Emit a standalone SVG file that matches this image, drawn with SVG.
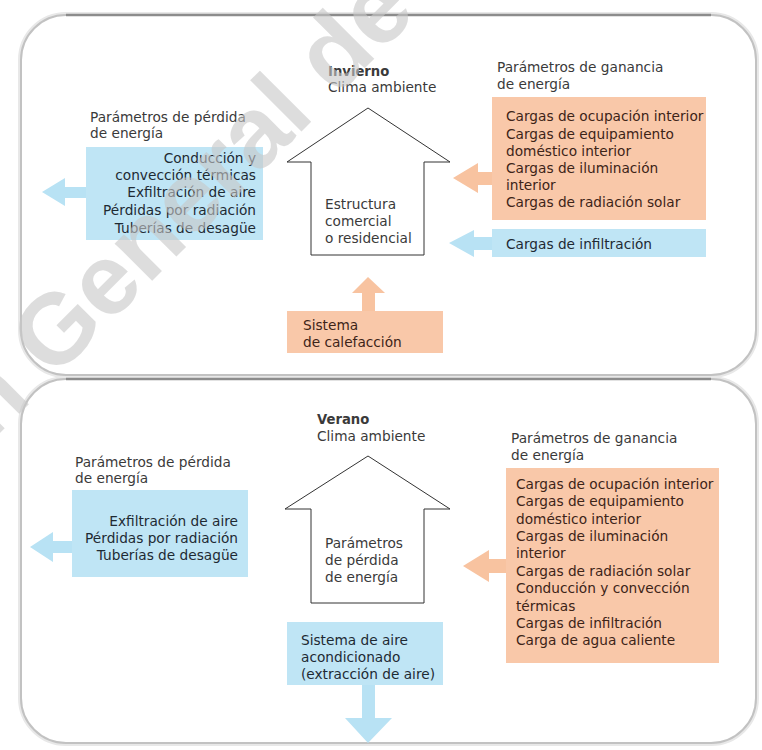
<svg xmlns="http://www.w3.org/2000/svg" width="762" height="750" viewBox="0 0 762 750">
<style>
text{font-family:"DejaVu Sans","Open Sans",sans-serif;font-size:13.7px;fill:#333}
.h{fill:#3a3a3a}
.b{fill:#1e2a33}
.o{fill:#3d2418}
.title{font-weight:bold;font-size:13.2px}
.bluebox{fill:#bfe5f5}
.orbox{fill:#f9c8a9}
.barrow{fill:#b8e2f4}
.oarrow{fill:#f8c3a0}
.house{fill:#fff;stroke:#333;stroke-width:1}
.panel{fill:#fff;stroke:#c2c2c2;stroke-width:2}
.halo{fill:none;stroke:#e8e8e8;stroke-width:6}
.topedge{fill:none;stroke:#8c8c8c;stroke-width:2.5}
.wm{font-family:"Liberation Sans",sans-serif;font-size:100px;font-weight:bold;fill:#c8c8c8;opacity:.6}
</style>
<g id="panels">
<rect class="halo" x="21" y="15" width="735" height="360" rx="45"/>
<rect class="panel" x="21" y="15" width="735" height="360" rx="45"/>
<path class="topedge" d="M66,15 H711"/>
<rect class="halo" x="21" y="379" width="735" height="364" rx="45"/>
<rect class="panel" x="21" y="379" width="735" height="364" rx="45"/>
<path class="topedge" d="M66,379 H711"/>
</g>
<g id="connectors">
<polygon class="barrow" points="42,192 65,178 65,187 86,187 86,198 65,198 65,206"/>
<polygon class="oarrow" points="453,178 478,163 478,172 492,172 492,185 478,185 478,193"/>
<polygon class="barrow" points="449,243 474,230 474,237 492,237 492,250 474,250 474,257"/>
<polygon class="oarrow" points="368,277 385,293 375,293 375,312 362,312 362,293 352,293"/>
<polygon class="barrow" points="30,547 53,532 53,541 72,541 72,553 53,553 53,562"/>
<polygon class="oarrow" points="463,566 489,550 489,559 506,559 506,573 489,573 489,582"/>
<polygon class="barrow" points="362,685 375,685 375,718 392,718 368,743 345,718 362,718"/>
</g>
<g id="winter-loss">
<text class="h" x="90" y="122">Parámetros de pérdida</text>
<text class="h" x="90" y="138">de energía</text>
<rect class="bluebox" x="86" y="147" width="177" height="93"/>
<g text-anchor="end">
<text class="b" x="256" y="163">Conducción y</text>
<text class="b" x="256" y="180">convección térmicas</text>
<text class="b" x="256" y="197">Exfiltración de aire</text>
<text class="b" x="256" y="215">Pérdidas por radiación</text>
<text class="b" x="256" y="233">Tuberías de desagüe</text>
</g>
</g>
<g id="winter-house">
<text class="h title" x="328" y="76">Invierno</text>
<text class="h" x="328" y="92">Clima ambiente</text>
<polygon class="house" points="368,108 450,162 424,162 424,255 311,255 311,162 287,162"/>
<text class="h" x="325" y="209">Estructura</text>
<text class="h" x="325" y="226">comercial</text>
<text class="h" x="325" y="243">o residencial</text>
</g>
<g id="winter-heating">
<rect class="orbox" x="287" y="311" width="156" height="42"/>
<text class="o" x="303" y="330">Sistema</text>
<text class="o" x="303" y="347">de calefacción</text>
</g>
<g id="winter-gain">
<text class="h" x="497" y="72">Parámetros de ganancia</text>
<text class="h" x="497" y="89">de energía</text>
<rect class="orbox" x="492" y="97" width="214" height="123"/>
<text class="o" x="506" y="121">Cargas de ocupación interior</text>
<text class="o" x="506" y="139">Cargas de equipamiento</text>
<text class="o" x="506" y="156">doméstico interior</text>
<text class="o" x="506" y="173">Cargas de iluminación</text>
<text class="o" x="506" y="190">interior</text>
<text class="o" x="506" y="207">Cargas de radiación solar</text>
</g>
<g id="winter-infiltration">
<rect class="bluebox" x="492" y="229" width="214" height="28"/>
<text class="b" x="506" y="249">Cargas de infiltración</text>
</g>
<g id="summer-loss">
<text class="h" x="75" y="467">Parámetros de pérdida</text>
<text class="h" x="75" y="483">de energía</text>
<rect class="bluebox" x="72" y="490" width="176" height="87"/>
<g text-anchor="end">
<text class="b" x="238" y="526">Exfiltración de aire</text>
<text class="b" x="238" y="543">Pérdidas por radiación</text>
<text class="b" x="238" y="560">Tuberías de desagüe</text>
</g>
</g>
<g id="summer-house">
<text class="h title" x="317" y="424">Verano</text>
<text class="h" x="317" y="441">Clima ambiente</text>
<polygon class="house" points="368,456 450,509 424,509 424,603 311,603 311,509 285,509"/>
<text class="h" x="325" y="548">Parámetros</text>
<text class="h" x="325" y="565">de pérdida</text>
<text class="h" x="325" y="582">de energía</text>
</g>
<g id="summer-ac">
<rect class="bluebox" x="287" y="622" width="156" height="63"/>
<text class="b" x="301" y="645">Sistema de aire</text>
<text class="b" x="301" y="662">acondicionado</text>
<text class="b" x="301" y="679">(extracción de aire)</text>
</g>
<g id="summer-gain">
<text class="h" x="511" y="443">Parámetros de ganancia</text>
<text class="h" x="511" y="460">de energía</text>
<rect class="orbox" x="506" y="468" width="213" height="195"/>
<text class="o" x="516" y="489">Cargas de ocupación interior</text>
<text class="o" x="516" y="506">Cargas de equipamiento</text>
<text class="o" x="516" y="524">doméstico interior</text>
<text class="o" x="516" y="541">Cargas de iluminación</text>
<text class="o" x="516" y="558">interior</text>
<text class="o" x="516" y="576">Cargas de radiación solar</text>
<text class="o" x="516" y="593">Conducción y convección</text>
<text class="o" x="516" y="611">térmicas</text>
<text class="o" x="516" y="628">Cargas de infiltración</text>
<text class="o" x="516" y="645">Carga de agua caliente</text>
</g>
<g id="watermark">
<text class="wm" transform="translate(-10,443) rotate(-45)">n General de</text>
</g>
</svg>
